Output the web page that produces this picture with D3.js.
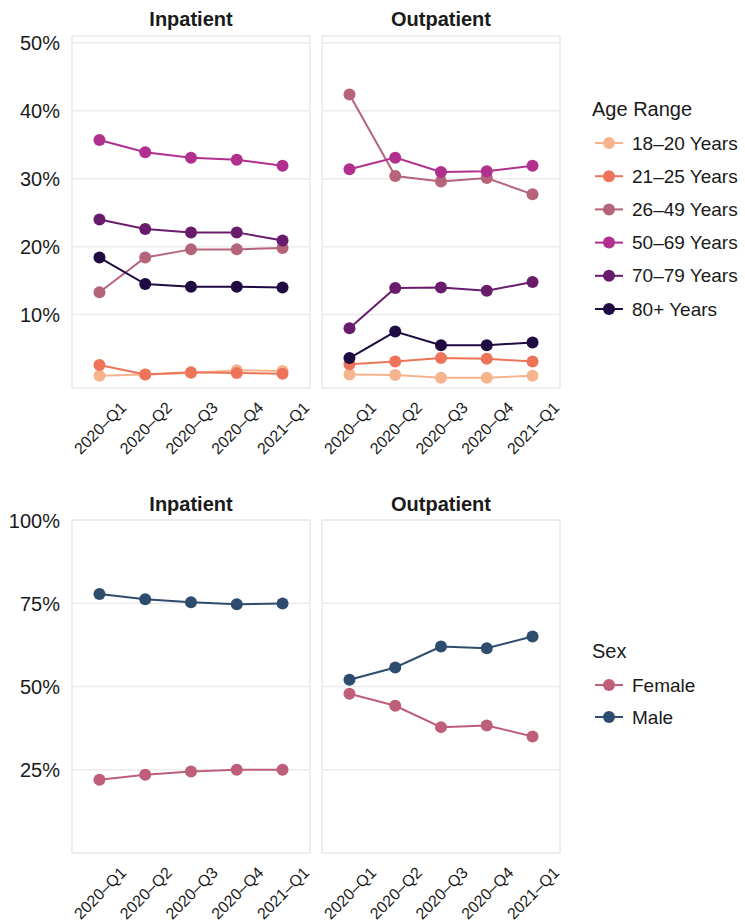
<!DOCTYPE html>
<html lang="en">
<head>
	<meta charset="utf-8">
	<title>Age Range and Sex by Quarter</title>
	<script src="https://d3js.org/d3.v7.min.js"></script>
	<style>
	body {margin: 0; background: #FFFFFF;}
	text {font-family: "Liberation Sans", Arial, Helvetica, sans-serif; fill: #1A1A1A;}
	.title {font-weight: bold; font-size: 20px;}
	.ytick {font-size: 20px;}
	.xtick {font-size: 16px;}
	.legtitle {font-size: 20px;}
	.legitem {font-size: 19px;}
	</style>
</head>
<body>
<div id="chart"></div>
<script>

// Categories
var quarters = ["2020–Q1", "2020–Q2", "2020–Q3", "2020–Q4", "2021–Q1"];
var settings = ["Inpatient", "Outpatient"];

// Age range series (percent), one row per age group
var ageGroups = ["18–20 Years", "21–25 Years", "26–49 Years", "50–69 Years", "70–79 Years", "80+ Years"];
var ageColors = ["#F6B48E", "#EE7459", "#B5647A", "#B12F8E", "#6A1C6C", "#1F0B42"];
var ageInpatient = [
	[1.0, 1.2, 1.4, 1.8, 1.7],
	[2.6, 1.2, 1.5, 1.4, 1.3],
	[13.3, 18.4, 19.6, 19.6, 19.8],
	[35.7, 33.9, 33.1, 32.8, 31.9],
	[24.0, 22.6, 22.1, 22.1, 20.9],
	[18.4, 14.5, 14.1, 14.1, 14.0]
];
var ageOutpatient = [
	[1.2, 1.1, 0.7, 0.7, 1.0],
	[2.7, 3.1, 3.6, 3.5, 3.1],
	[42.4, 30.4, 29.6, 30.1, 27.7],
	[31.4, 33.1, 31.0, 31.1, 31.9],
	[8.0, 13.9, 14.0, 13.5, 14.8],
	[3.6, 7.5, 5.5, 5.5, 5.9]
];
var ageTicks = [10, 20, 30, 40, 50];

// Sex series (percent)
var sexGroups = ["Female", "Male"];
var sexColors = ["#BF5E78", "#2E4C6E"];
var sexInpatient = [
	[22.0, 23.5, 24.5, 25.0, 25.0],
	[77.8, 76.2, 75.3, 74.7, 74.9]
];
var sexOutpatient = [
	[47.8, 44.2, 37.8, 38.3, 35.0],
	[52.0, 55.7, 62.0, 61.5, 65.0]
];
var sexTicks = [25, 50, 75, 100];

// Layout values
var width = 745;
var height = 922;
var panelX = [[72, 310], [322, 560]];

var svg = d3.select("#chart").append("svg")
	.attr("width", width)
	.attr("height", height);

// Draws one row of two facets plus its legend
function drawRow(opts) {
	var yScale = d3.scaleLinear()
		.domain(opts.domain)
		.range([opts.bottom, opts.top]);

	settings.forEach(function(setting, p) {
		var xScale = d3.scalePoint()
			.domain(quarters)
			.range(panelX[p])
			.padding(0.6);

		var g = svg.append("g");

		// panel border
		g.append("rect")
			.attr("x", panelX[p][0])
			.attr("y", opts.top)
			.attr("width", panelX[p][1] - panelX[p][0])
			.attr("height", opts.bottom - opts.top)
			.attr("fill", "none")
			.attr("stroke", "#E3E3E3")
			.attr("stroke-width", 1.2);

		// horizontal gridlines
		g.selectAll(".grid")
			.data(opts.ticks)
			.enter()
			.append("line")
				.attr("x1", panelX[p][0])
				.attr("x2", panelX[p][1])
				.attr("y1", function(d){return yScale(d);})
				.attr("y2", function(d){return yScale(d);})
				.attr("stroke", "#EBEBEB")
				.attr("stroke-width", 1.5);

		// facet title
		g.append("text")
			.attr("class", "title")
			.attr("x", (panelX[p][0] + panelX[p][1]) / 2)
			.attr("y", opts.titleY)
			.attr("text-anchor", "middle")
			.text(setting);

		// y axis only on the left facet
		if (p == 0) {
			var yAxis = d3.axisLeft(yScale)
				.tickValues(opts.ticks)
				.tickSize(0)
				.tickPadding(0)
				.tickFormat(function(d){return d + "%";});
			var ya = g.append("g")
				.attr("transform", "translate(60,0)")
				.call(yAxis);
			ya.select(".domain").remove();
			ya.selectAll("text")
				.attr("class", "ytick")
				.attr("fill", "#1A1A1A")
				.attr("dy", "0.35em");
		}

		// x axis, rotated labels centred under each point
		var xAxis = d3.axisBottom(xScale).tickSize(0);
		var xa = g.append("g")
			.attr("transform", "translate(0," + opts.bottom + ")")
			.call(xAxis);
		xa.select(".domain").remove();
		xa.selectAll("text")
			.attr("class", "xtick")
			.attr("fill", "#1A1A1A")
			.attr("y", 0)
			.attr("dy", "0.35em")
			.attr("text-anchor", "middle")
			.attr("transform", "translate(0,40) rotate(-45)");

		var series = opts.values[p];
		var line = d3.line()
			.x(function(d, i){return xScale(quarters[i]);})
			.y(function(d){return yScale(d);});

		// lines first, then points (drawn by group order)
		series.forEach(function(vals, s) {
			g.append("path")
				.datum(vals)
				.attr("d", line)
				.attr("fill", "none")
				.attr("stroke", opts.colors[s])
				.attr("stroke-width", 2);
		});
		series.forEach(function(vals, s) {
			g.selectAll(".pt" + s)
				.data(vals)
				.enter()
				.append("circle")
					.attr("cx", function(d, i){return xScale(quarters[i]);})
					.attr("cy", function(d){return yScale(d);})
					.attr("r", 6)
					.attr("fill", opts.colors[s]);
		});
	});

	// legend
	var leg = svg.append("g");
	leg.append("text")
		.attr("class", "legtitle")
		.attr("x", 592)
		.attr("y", opts.legTitleY)
		.text(opts.legTitle);

	var items = leg.selectAll(".item")
		.data(opts.groups)
		.enter()
		.append("g")
			.attr("transform", function(d, i){return "translate(0," + (opts.legY + i * opts.legStep) + ")";});
	items.append("line")
		.attr("x1", 595)
		.attr("x2", 623)
		.attr("stroke", function(d, i){return opts.colors[i];})
		.attr("stroke-width", 2);
	items.append("circle")
		.attr("cx", 609)
		.attr("r", 6)
		.attr("fill", function(d, i){return opts.colors[i];});
	items.append("text")
		.attr("class", "legitem")
		.attr("x", 632)
		.attr("dy", "0.35em")
		.text(function(d){return d;});
}

// Top row: age range
drawRow({
	top: 36, bottom: 388, domain: [-0.8, 51], ticks: ageTicks, titleY: 26,
	values: [ageInpatient, ageOutpatient], colors: ageColors, groups: ageGroups,
	legTitle: "Age Range", legTitleY: 116, legY: 143, legStep: 33.2
});

// Bottom row: sex
drawRow({
	top: 520, bottom: 853, domain: [0, 100], ticks: sexTicks, titleY: 511,
	values: [sexInpatient, sexOutpatient], colors: sexColors, groups: sexGroups,
	legTitle: "Sex", legTitleY: 658, legY: 685, legStep: 32
});

</script>
</body>
</html>
